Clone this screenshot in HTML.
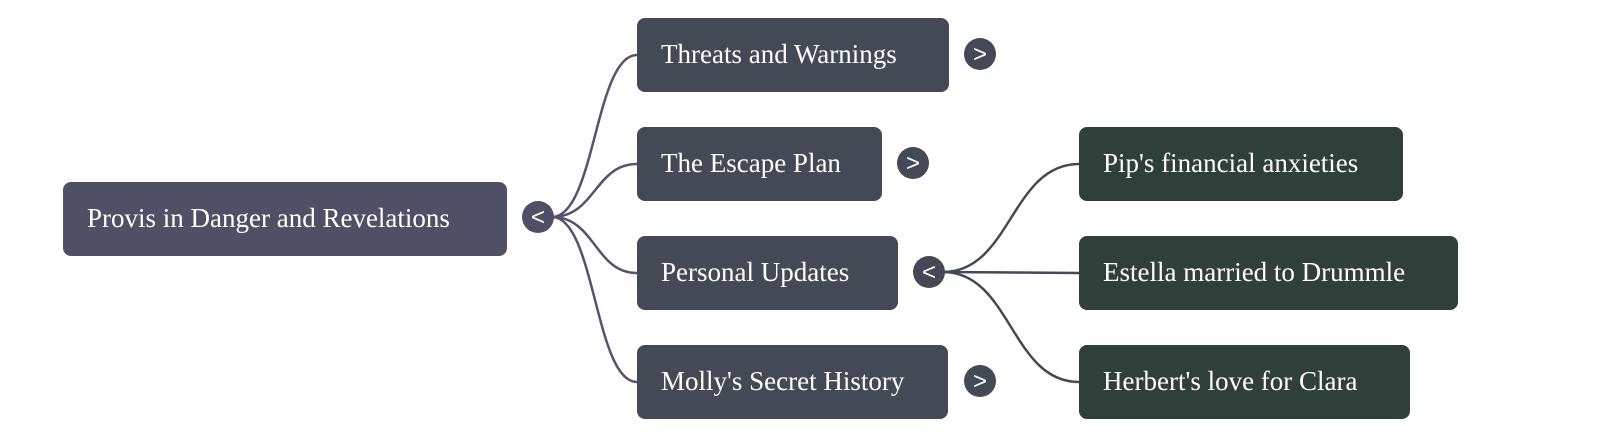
<!DOCTYPE html>
<html><head><style>
body{margin:0;width:1600px;height:446px;background:#fff;position:relative;overflow:hidden;font-family:"Liberation Serif",serif;}
.n{position:absolute;height:74px;border-radius:8px;color:#fff;font-size:27px;line-height:72px;padding-left:24px;box-sizing:border-box;white-space:nowrap;}
.r{background:#4f5066}.a{background:#434a55}.b{background:#2f403b}
</style></head><body>
<svg width="1600" height="446" style="position:absolute;left:0;top:0">
<g fill="none" stroke="#54546c" stroke-width="2.5">
<path d="M552 217 C595 217 595 55 637 55"/>
<path d="M552 217 C595 217 595 164 637 164"/>
<path d="M552 217 C595 217 595 273 637 273"/>
<path d="M552 217 C595 217 595 382 637 382"/>
</g>
<g fill="none" stroke="#434a55" stroke-width="2.5">
<path d="M943 272 C1011 272 1011 164 1079 164"/>
<path d="M943 272 L1079 273"/>
<path d="M943 272 C1011 272 1011 382 1079 382"/>
</g>
<g font-family="Liberation Sans,sans-serif" font-size="24" fill="#fff" text-anchor="middle">
<circle cx="538" cy="217" r="16" fill="#4f5066"/><text x="538" y="225">&lt;</text>
<circle cx="980" cy="54" r="16" fill="#434a55"/><text x="980" y="62">&gt;</text>
<circle cx="913" cy="163" r="16" fill="#434a55"/><text x="913" y="171">&gt;</text>
<circle cx="929" cy="272" r="16" fill="#434a55"/><text x="929" y="280">&lt;</text>
<circle cx="980" cy="381" r="16" fill="#434a55"/><text x="980" y="389">&gt;</text>
</g>
</svg>
<div class="n r" style="left:63px;top:182px;width:444px">Provis in Danger and Revelations</div>
<div class="n a" style="left:637px;top:18px;width:312px">Threats and Warnings</div>
<div class="n a" style="left:637px;top:127px;width:245px">The Escape Plan</div>
<div class="n a" style="left:637px;top:236px;width:261px">Personal Updates</div>
<div class="n a" style="left:637px;top:345px;width:311px">Molly's Secret History</div>
<div class="n b" style="left:1079px;top:127px;width:324px">Pip's financial anxieties</div>
<div class="n b" style="left:1079px;top:236px;width:379px">Estella married to Drummle</div>
<div class="n b" style="left:1079px;top:345px;width:331px">Herbert's love for Clara</div>
</body></html>
